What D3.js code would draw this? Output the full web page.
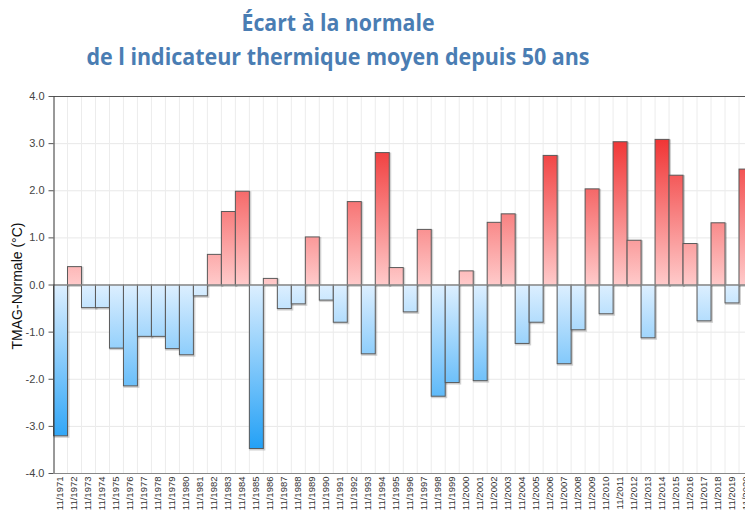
<!DOCTYPE html>
<html><head><meta charset="utf-8">
<script src="https://cdn.jsdelivr.net/npm/d3@7"></script>
<style>
html,body{margin:0;padding:0;background:#fff;overflow:hidden;}
svg{display:block;}
</style></head>
<body>
<svg id="c" width="745" height="510"></svg>
<script>
const titleLines = ["Écart à la normale", "de l indicateur thermique moyen depuis 50 ans"];
const yLabel = "TMAG-Normale (°C)";
const categories = ["11/1971","11/1972","11/1973","11/1974","11/1975","11/1976","11/1977","11/1978","11/1979","11/1980",
"11/1981","11/1982","11/1983","11/1984","11/1985","11/1986","11/1987","11/1988","11/1989","11/1990",
"11/1991","11/1992","11/1993","11/1994","11/1995","11/1996","11/1997","11/1998","11/1999","11/2000",
"11/2001","11/2002","11/2003","11/2004","11/2005","11/2006","11/2007","11/2008","11/2009","11/2010",
"11/2011","11/2012","11/2013","11/2014","11/2015","11/2016","11/2017","11/2018","11/2019","11/2020"];
const values = [-3.20,0.39,-0.48,-0.48,-1.34,-2.14,-1.09,-1.09,-1.35,-1.48,
-0.23,0.65,1.56,1.99,-3.47,0.14,-0.50,-0.40,1.02,-0.32,
-0.79,1.77,-1.46,2.81,0.37,-0.57,1.18,-2.36,-2.07,0.30,
-2.03,1.33,1.51,-1.24,-0.79,2.75,-1.67,-0.95,2.04,-0.61,
3.04,0.95,-1.12,3.09,2.33,0.88,-0.76,1.32,-0.38,2.46];
const yTicks = [-4,-3,-2,-1,0,1,2,3,4];

(function(){
const svg = d3.select("#c");
const left = 53, topY = 96, bottom = 473, bandW = 13.99;
const x = d3.scaleBand().domain(categories).range([left, left + categories.length * bandW]).padding(0);
const y = d3.scaleLinear().domain([-4, 4]).range([bottom, topY]);
const fmt = v => d3.format(".1f")(v).replace("−", "-");

const defs = svg.append("defs");
const gPos = defs.append("linearGradient").attr("id", "gPos").attr("gradientUnits", "userSpaceOnUse")
  .attr("x1", 0).attr("x2", 0).attr("y1", y(0)).attr("y2", y(3.1));
gPos.append("stop").attr("offset", 0).attr("stop-color", "#ffcaca");
gPos.append("stop").attr("offset", 1).attr("stop-color", "#f03434");
const gNeg = defs.append("linearGradient").attr("id", "gNeg").attr("gradientUnits", "userSpaceOnUse")
  .attr("x1", 0).attr("x2", 0).attr("y1", y(0)).attr("y2", y(-3.5));
gNeg.append("stop").attr("offset", 0).attr("stop-color", "#ddefff");
gNeg.append("stop").attr("offset", 1).attr("stop-color", "#22a0f6");

svg.append("g").selectAll("line").data(yTicks).join("line")
  .attr("x1", left).attr("x2", 760).attr("y1", d => y(d) + 0.5).attr("y2", d => y(d) + 0.5)
  .attr("stroke", "#e8e8e8").attr("stroke-width", 1);
svg.append("g").selectAll("line").data(categories).join("line")
  .attr("x1", d => x(d) + bandW + 0.5).attr("x2", d => x(d) + bandW + 0.5)
  .attr("y1", topY).attr("y2", bottom)
  .attr("stroke", "#ececec").attr("stroke-width", 1);

const data = categories.map((c, i) => ({c, v: values[i]}));
const bars = svg.append("g");
bars.selectAll("rect.sh").data(data).join("rect").attr("class", "sh")
  .attr("x", d => x(d.c) + 1.5).attr("width", bandW)
  .attr("y", d => Math.min(y(d.v), y(0)) + 1.5).attr("height", d => Math.abs(y(d.v) - y(0)))
  .attr("fill", "none").attr("stroke", "rgba(0,0,0,0.18)").attr("stroke-width", 2);
bars.selectAll("rect.b").data(data).join("rect").attr("class", "b")
  .attr("x", d => x(d.c) + 0.5).attr("width", bandW)
  .attr("y", d => Math.min(y(d.v), y(0)) + 0.5).attr("height", d => Math.abs(y(d.v) - y(0)))
  .attr("fill", d => d.v >= 0 ? "url(#gPos)" : "url(#gNeg)")
  .attr("stroke", "#5a5a5a").attr("stroke-width", 1);

svg.append("line").attr("x1", left).attr("x2", 760).attr("y1", y(0) + 0.5).attr("y2", y(0) + 0.5)
  .attr("stroke", "#999").attr("stroke-width", 1.2);

svg.append("line").attr("x1", left).attr("x2", 760).attr("y1", topY + 0.5).attr("y2", topY + 0.5)
  .attr("stroke", "#555").attr("stroke-width", 1);

const yAxis = svg.append("g").attr("transform", `translate(${left + 0.5},0)`)
  .call(d3.axisLeft(y).tickValues(yTicks).tickFormat(fmt).tickSize(5).tickPadding(4).tickSizeOuter(0));
yAxis.select(".domain").attr("stroke", "#333");
yAxis.selectAll(".tick line").attr("stroke", "#555");
yAxis.selectAll("text").attr("fill", "#444").style("font-family", "'Liberation Sans', Arial, sans-serif").style("font-size", "11px");

const xAxis = svg.append("g").attr("transform", `translate(0,${bottom + 0.5})`)
  .call(d3.axisBottom(x).tickSize(0).tickPadding(0).tickSizeOuter(0));
xAxis.select(".domain").attr("stroke", "#888").attr("d", `M${left},0H760`);
xAxis.selectAll("text")
  .attr("transform", "rotate(-90)").attr("text-anchor", "end")
  .attr("x", -3).attr("y", 0).attr("dy", "0.35em")
  .attr("fill", "#333").style("font-family", "'Liberation Sans', Arial, sans-serif").style("font-size", "9.5px");

svg.append("text").attr("transform", `translate(22,286) rotate(-90)`)
  .attr("text-anchor", "middle").attr("fill", "#111")
  .style("font-family", "'Liberation Sans', Arial, sans-serif").style("font-size", "14px")
  .text(yLabel);

const tWidths = [193, 503], tBase = [31, 65];
titleLines.forEach((t, i) => {
  svg.append("text").attr("x", 338).attr("y", tBase[i]).attr("text-anchor", "middle")
    .attr("fill", "#4a7db3")
    .style("font-family", "'Open Sans', 'Noto Sans', sans-serif").style("font-weight", "700").style("font-size", "24px")
    .attr("textLength", tWidths[i]).attr("lengthAdjust", "spacingAndGlyphs")
    .text(t);
});
})();
</script>
</body></html>
